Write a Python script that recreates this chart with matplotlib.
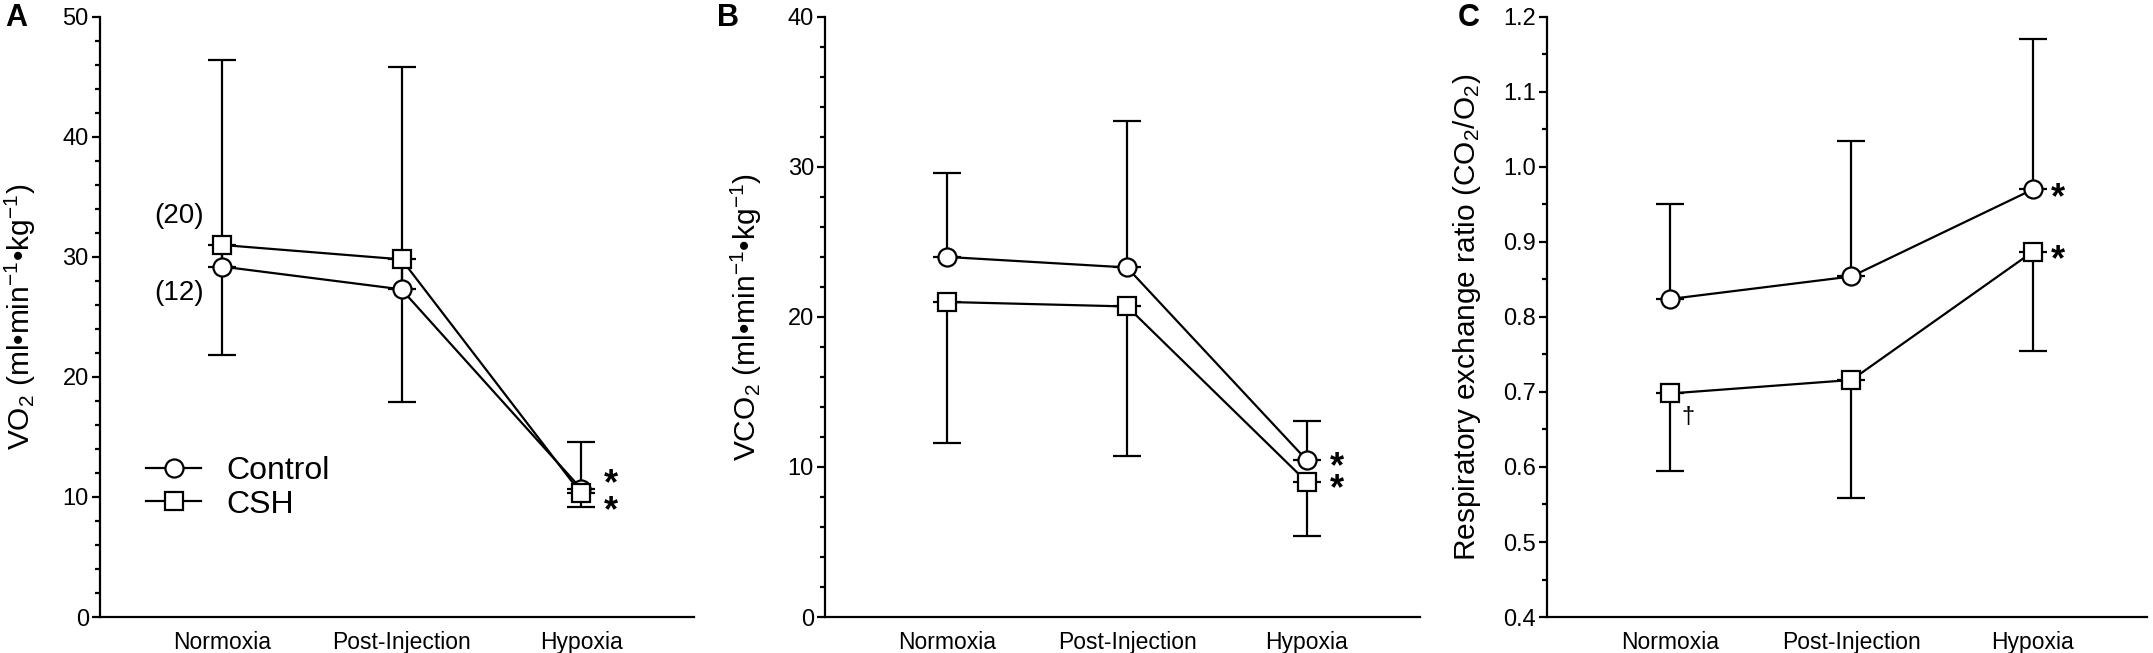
import numpy as np
import matplotlib
matplotlib.use('Agg')
import matplotlib.pyplot as plt
from matplotlib.ticker import MultipleLocator, FormatStrFormatter

plt.rcParams['font.family'] = ['Liberation Sans', 'DejaVu Sans']
plt.rcParams['mathtext.fontset'] = 'custom'
plt.rcParams['mathtext.rm'] = 'Liberation Sans'
plt.rcParams['mathtext.default'] = 'regular'

categories = ['Normoxia', 'Post-Injection', 'Hypoxia']

# VO2 (panel A)
vo2_control = [29.2, 27.3, 10.7]
vo2_control_up = [46.4, 45.8, 14.6]
vo2_csh = [31.0, 29.8, 10.3]
vo2_csh_down = [21.8, 17.9, 9.2]

# VCO2 (panel B)
vco2_control = [24.0, 23.3, 10.45]
vco2_control_up = [29.6, 33.05, 13.05]
vco2_csh = [21.0, 20.7, 9.0]
vco2_csh_down = [11.6, 10.7, 5.4]

# RER (panel C)
rer_control = [0.824, 0.854, 0.970]
rer_control_up = [0.950, 1.034, 1.171]
rer_csh = [0.698, 0.716, 0.887]
rer_csh_down = [0.594, 0.558, 0.755]

fig = plt.figure(figsize=(21.53, 6.53), dpi=100)

positions = [0.0464, 0.3832, 0.7185]
widths = [0.276, 0.2764, 0.2787]


def draw_panel(ax, ctrl, ctrl_up, csh, csh_down, ylim, major, minor):
    x = np.arange(len(categories))
    ctrl = np.array(ctrl)
    csh = np.array(csh)
    ax.errorbar(x, ctrl, yerr=[np.zeros(3), np.array(ctrl_up) - ctrl], fmt='none',
                ecolor='black', elinewidth=1.6, capsize=10, capthick=1.6, zorder=2)
    ax.errorbar(x, csh, yerr=[csh - np.array(csh_down), np.zeros(3)], fmt='none',
                ecolor='black', elinewidth=1.6, capsize=10, capthick=1.6, zorder=2)
    ax.plot(x, ctrl, '-o', color='black', lw=1.6, ms=13, mfc='white', mec='black',
            mew=1.6, label='Control', zorder=3)
    ax.plot(x, csh, '-s', color='black', lw=1.6, ms=13, mfc='white', mec='black',
            mew=1.6, label='CSH', zorder=3)
    ax.set_xlim(-0.68, 2.63)
    ax.set_ylim(*ylim)
    ax.set_xticks(x)
    ax.set_xticklabels(categories, fontsize=16.5)
    ax.tick_params(axis='x', length=0, pad=10)
    ax.yaxis.set_major_locator(MultipleLocator(major))
    ax.yaxis.set_minor_locator(MultipleLocator(minor))
    ax.tick_params(axis='y', which='major', length=6, width=1.6, labelsize=17, pad=2)
    ax.tick_params(axis='y', which='minor', length=3.5, width=1.6)
    for s in ['top', 'right']:
        ax.spines[s].set_visible(False)
    for s in ['left', 'bottom']:
        ax.spines[s].set_linewidth(1.6)
    ax.yaxis.set_label_coords(-0.104, 0.5)


axA = fig.add_axes([positions[0], 0.0551, widths[0], 0.919])
draw_panel(axA, vo2_control, vo2_control_up, vo2_csh, vo2_csh_down, (0, 50), 10, 2)
axA.set_ylabel(r'VO$_2$ (ml•min$^{-1}$•kg$^{-1}$)', fontsize=21.5)
axA.text(-0.1, 33.4, '(20)', fontsize=20, ha='right', va='center')
axA.text(-0.1, 27.0, '(12)', fontsize=20, ha='right', va='center')
axA.text(2.13, 11.0, '*', fontsize=26, fontweight='bold', ha='left', va='center')
axA.text(2.13, 8.8, '*', fontsize=26, fontweight='bold', ha='left', va='center')
axA.legend(loc='center left', bbox_to_anchor=(0.03, 0.215), frameon=False,
           fontsize=23, handlelength=1.7, handletextpad=0.8, labelspacing=0.1)

axB = fig.add_axes([positions[1], 0.0551, widths[1], 0.919])
draw_panel(axB, vco2_control, vco2_control_up, vco2_csh, vco2_csh_down, (0, 40), 10, 2)
axB.set_ylabel(r'VCO$_2$ (ml•min$^{-1}$•kg$^{-1}$)', fontsize=21.5)
axB.yaxis.set_label_coords(-0.103, 0.5)
axB.text(2.13, vco2_control[2] - 0.5, '*', fontsize=26, fontweight='bold', ha='left', va='center')
axB.text(2.13, vco2_csh[2] - 0.5, '*', fontsize=26, fontweight='bold', ha='left', va='center')

axC = fig.add_axes([positions[2], 0.0551, widths[2], 0.919])
draw_panel(axC, rer_control, rer_control_up, rer_csh, rer_csh_down, (0.4, 1.2), 0.1, 0.05)
axC.set_ylabel(r'Respiratory exchange ratio (CO$_2$/O$_2$)', fontsize=21.5)
axC.yaxis.set_major_formatter(FormatStrFormatter('%.1f'))
axC.yaxis.set_label_coords(-0.107, 0.5)
axC.text(2.1, rer_control[2] - 0.012, '*', fontsize=26, fontweight='bold', ha='left', va='center')
axC.text(2.1, rer_csh[2] - 0.012, '*', fontsize=26, fontweight='bold', ha='left', va='center')
axC.text(0.1, 0.667, '†', fontsize=17, ha='center', va='center')

fig.text(0.0075, 0.972, 'A', fontsize=22, fontweight='bold', ha='center', va='center')
fig.text(0.338, 0.972, 'B', fontsize=22, fontweight='bold', ha='center', va='center')
fig.text(0.682, 0.972, 'C', fontsize=22, fontweight='bold', ha='center', va='center')

fig.savefig('out.png', dpi=100)
